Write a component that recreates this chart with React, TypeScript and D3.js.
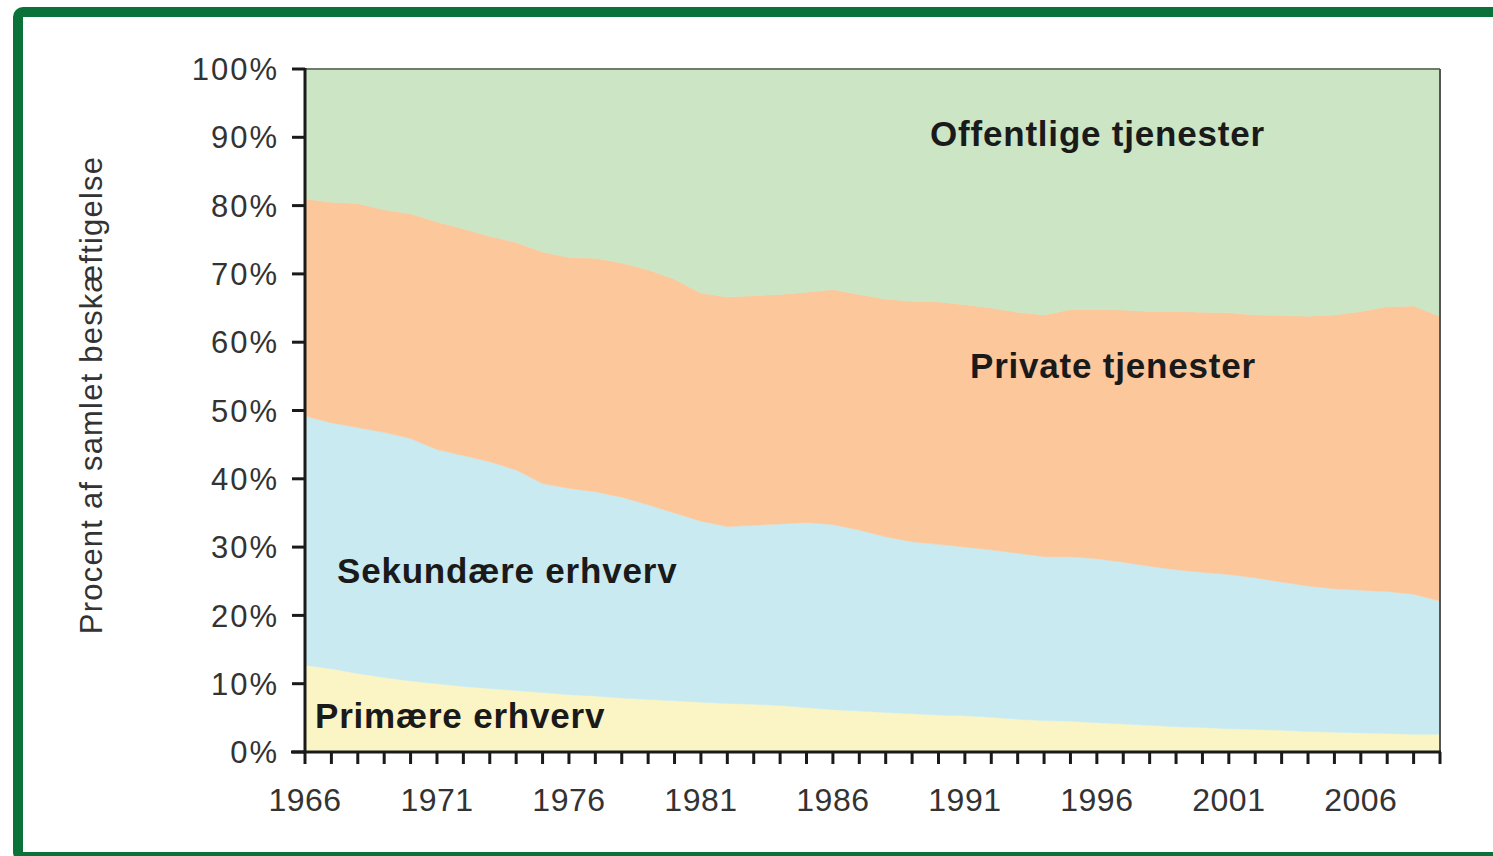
import React from "react";
import * as d3 from "d3";

const years: number[] = d3.range(1966, 2010);

const primary: number[] = [12.7,12.2,11.5,10.9,10.4,10.0,9.6,9.3,9.0,8.7,8.4,8.2,7.9,7.7,7.5,7.3,7.1,7.0,6.8,6.5,6.2,6.0,5.8,5.6,5.4,5.3,5.1,4.8,4.6,4.5,4.3,4.1,3.9,3.7,3.6,3.4,3.3,3.2,3.0,2.9,2.8,2.7,2.6,2.6];
const secondary: number[] = [36.5,36.0,36.0,35.9,35.5,34.3,33.8,33.2,32.3,30.6,30.2,29.9,29.4,28.5,27.5,26.5,25.9,26.2,26.6,27.1,27.1,26.5,25.7,25.2,25.0,24.7,24.5,24.3,24.0,24.1,24.0,23.7,23.3,23.0,22.7,22.6,22.2,21.7,21.3,21.0,20.9,20.8,20.5,19.5];
const privateServices: number[] = [31.8,32.3,32.8,32.6,32.9,33.3,33.2,33.0,33.3,33.9,33.8,34.2,34.3,34.4,34.2,33.4,33.6,33.6,33.6,33.7,34.4,34.5,34.8,35.2,35.5,35.5,35.4,35.3,35.4,36.2,36.5,36.9,37.3,37.8,38.1,38.3,38.5,39.0,39.5,40.1,40.8,41.7,42.2,41.7];
const publicServices: number[] = [19.0,19.5,19.7,20.6,21.2,22.4,23.4,24.5,25.4,26.8,27.6,27.7,28.4,29.4,30.8,32.8,33.4,33.2,33.0,32.7,32.3,33.0,33.7,34.0,34.1,34.5,35.0,35.6,36.0,35.2,35.2,35.3,35.5,35.5,35.6,35.7,36.0,36.1,36.2,36.0,35.5,34.8,34.7,36.2];

const seriesKeys = ["primary", "secondary", "private", "public"];
const seriesLabels = ["Primære erhverv", "Sekundære erhverv", "Private tjenester", "Offentlige tjenester"];
const seriesColors = ["#fbf5c6", "#c9eaf0", "#fcc79b", "#cbe5c5"];
const yTicks: number[] = [0, 10, 20, 30, 40, 50, 60, 70, 80, 90, 100];
const xLabelYears: number[] = [1966, 1971, 1976, 1981, 1986, 1991, 1996, 2001, 2006];
const yTitle = "Procent af samlet beskæftigelse";

export default function App() {
  const W = 1493, H = 856;
  const left = 305, right = 1440, top = 69, bottom = 752;
  const x = d3.scaleLinear().domain([1966, 2009]).range([left, right]);
  const y = d3.scaleLinear().domain([0, 100]).range([bottom, top]);

  const table = years.map((yr, i) => ({
    year: yr,
    primary: primary[i],
    secondary: secondary[i],
    private: privateServices[i],
    public: publicServices[i],
  }));
  const stacked = d3.stack<any>().keys(seriesKeys)(table);
  const area = d3
    .area<any>()
    .x((d) => x(d.data.year))
    .y0((d) => y(d[0]))
    .y1((d) => y(Math.min(100, d[1])));

  const labelPos = [
    { x: 315, y: 728 },
    { x: 337, y: 583 },
    { x: 970, y: 378 },
    { x: 930, y: 146 },
  ];

  const font = "'Liberation Sans', Arial, sans-serif";

  return (
    <svg width={W} height={H} style={{ position: "absolute", left: 0, top: 0, background: "#fff" }}>
      <rect x={0} y={0} width={W} height={H} fill="#ffffff" />
      <rect x={18} y={12} width={1600} height={845} rx={5} fill="none" stroke="#0a7239" strokeWidth={10} />
      {stacked.map((s, i) => (
        <path key={s.key} d={area(s as any) || ""} fill={seriesColors[i]} stroke={seriesColors[i]} strokeWidth={0.5} />
      ))}
      <line x1={left} x2={right} y1={top} y2={top} stroke="#6e7b6e" strokeWidth={2} />
      <line x1={right} x2={right} y1={top} y2={bottom} stroke="#555" strokeWidth={2} />
      <line x1={left} x2={left} y1={top - 1} y2={bottom + 1} stroke="#1a1a1a" strokeWidth={3} />
      {yTicks.map((t) => (
        <g key={t}>
          <line x1={292} x2={left} y1={y(t)} y2={y(t)} stroke="#1a1a1a" strokeWidth={3} />
          <text x={279} y={y(t)} dy="0.36em" textAnchor="end" fontFamily={font} fontSize={31} letterSpacing={2} fill="#333">
            {t}%
          </text>
        </g>
      ))}
      <line x1={left - 14} x2={right + 1} y1={bottom} y2={bottom} stroke="#1a1a1a" strokeWidth={3} />
      {years.map((yr) => (
        <line key={yr} x1={x(yr)} x2={x(yr)} y1={bottom} y2={bottom + 12} stroke="#1a1a1a" strokeWidth={3} />
      ))}
      {xLabelYears.map((yr) => (
        <text key={yr} x={x(yr)} y={811} textAnchor="middle" fontFamily={font} fontSize={32} letterSpacing={0.5} fill="#333">
          {yr}
        </text>
      ))}
      <text
        transform={`translate(102, 395) rotate(-90)`}
        textAnchor="middle"
        fontFamily={font}
        fontSize={31}
        letterSpacing={1.2}
        fill="#333"
      >
        {yTitle}
      </text>
      {seriesLabels.map((lab, i) => (
        <text key={lab} x={labelPos[i].x} y={labelPos[i].y} fontFamily={font} fontSize={35} fontWeight="bold" letterSpacing={0.8} fill="#1a1a1a">
          {lab}
        </text>
      ))}
    </svg>
  );
}
